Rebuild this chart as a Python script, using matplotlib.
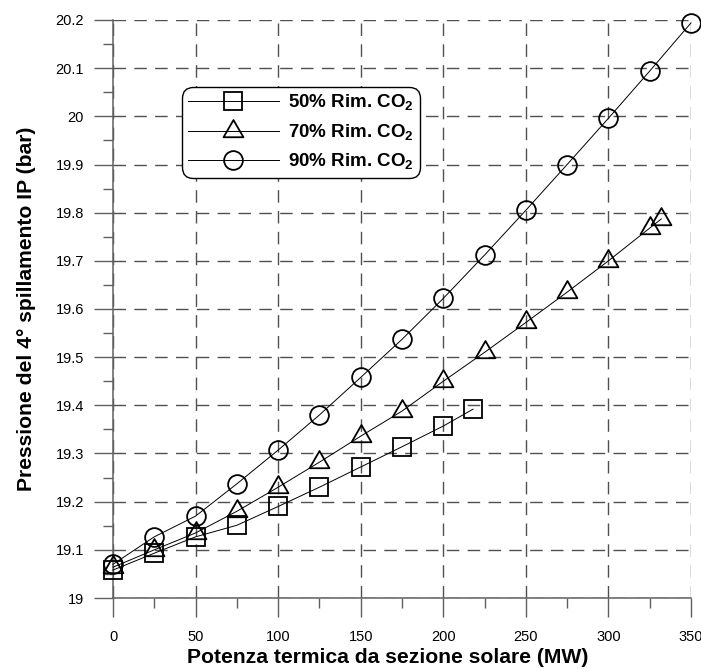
import matplotlib
matplotlib.use("Agg")
import matplotlib.pyplot as plt
from matplotlib.ticker import MultipleLocator
from matplotlib.path import Path

plt.rcParams['font.family'] = ['Liberation Sans', 'DejaVu Sans']
plt.rcParams['mathtext.fontset'] = 'custom'
plt.rcParams['mathtext.rm'] = 'Liberation Sans'
plt.rcParams['mathtext.bf'] = 'Liberation Sans:bold'

# ---- data ----
x50 = [0, 25, 50, 75, 100, 125, 150, 175, 200, 218]
y50 = [19.058, 19.093, 19.127, 19.151, 19.190, 19.230, 19.272, 19.314, 19.357, 19.392]

x70 = [0, 25, 50, 75, 100, 125, 150, 175, 200, 225, 250, 275, 300, 325, 332]
y70 = [19.064, 19.100, 19.135, 19.180, 19.230, 19.282, 19.336, 19.388, 19.450, 19.510,
       19.572, 19.635, 19.700, 19.768, 19.787]

x90 = [0, 25, 50, 75, 100, 125, 150, 175, 200, 225, 250, 275, 300, 325, 350]
y90 = [19.070, 19.127, 19.170, 19.237, 19.307, 19.380, 19.458, 19.537, 19.622, 19.712,
       19.805, 19.900, 19.996, 20.094, 20.194]

labels = [r'50% Rim. CO$_\mathbf{2}$', r'70% Rim. CO$_\mathbf{2}$', r'90% Rim. CO$_\mathbf{2}$']
xticks = [0, 50, 100, 150, 200, 250, 300, 350]
yticks = [19, 19.1, 19.2, 19.3, 19.4, 19.5, 19.6, 19.7, 19.8, 19.9, 20, 20.1, 20.2]
ytick_labels = ['19', '19.1', '19.2', '19.3', '19.4', '19.5', '19.6', '19.7', '19.8',
                '19.9', '20', '20.1', '20.2']

fig = plt.figure(figsize=(7.01, 6.69), dpi=100)
ax = fig.add_axes([113/701, 1-598/669, 578/701, 578/669])

tri = Path([(0, 0.577), (-0.5, -0.289), (0.5, -0.289), (0, 0.577)],
           [Path.MOVETO, Path.LINETO, Path.LINETO, Path.CLOSEPOLY])
common = dict(color='black', lw=0.7, mfc='none', mec='black', mew=1.3, clip_on=False, zorder=3)
ax.plot(x50, y50, marker='s', ms=13, label=labels[0], **common)
ax.plot(x70, y70, marker=tri, ms=16.5, label=labels[1], **common)
ax.plot(x90, y90, marker='o', ms=13.5, label=labels[2], **common)

ax.set_xlim(0, 350)
ax.set_ylim(19, 20.2)
ax.set_xticks(xticks)
ax.set_yticks(yticks)
ax.set_yticklabels(ytick_labels)
ax.xaxis.set_minor_locator(MultipleLocator(25))
ax.yaxis.set_minor_locator(MultipleLocator(0.05))

for s in ['top', 'right']:
    ax.spines[s].set_visible(False)
for s in ['left', 'bottom']:
    ax.spines[s].set_color('#606060')
    ax.spines[s].set_linewidth(1.1)

ax.tick_params(which='major', direction='out', length=14, width=1.0, color='#606060',
               labelsize=10.5, pad=7)
ax.tick_params(which='minor', direction='out', length=7, width=1.0, color='#606060')
ax.tick_params(axis='x', which='major', pad=9)

ax.grid(True, which='major', color='#505050', lw=1.0, ls=(0, (9, 6)))
ax.set_axisbelow(True)

ax.set_xlabel('Potenza termica da sezione solare (MW)', fontsize=15.2, fontweight='bold')
ax.set_ylabel('Pressione del 4° spillamento IP (bar)', fontsize=15.2, fontweight='bold')
ax.xaxis.label.set_va('baseline')
ax.yaxis.label.set_va('baseline')
ax.xaxis.set_label_coords((388-113)/578, (598-663)/578)
ax.yaxis.set_label_coords((32-113)/578, 0.5)

leg = ax.legend(loc='upper left', bbox_to_anchor=(182/701, 1-87/669),
                bbox_transform=fig.transFigure,
                prop={'weight': 'bold', 'size': 13.5},
                handlelength=4.85, handletextpad=0.53, labelspacing=0.5,
                borderpad=0.3, borderaxespad=0, fancybox=True, framealpha=1,
                edgecolor='black')
leg.get_frame().set_linewidth(1.0)
leg.get_frame().set_boxstyle('round', pad=0, rounding_size=0.6)

fig.savefig('out.png', dpi=100)
